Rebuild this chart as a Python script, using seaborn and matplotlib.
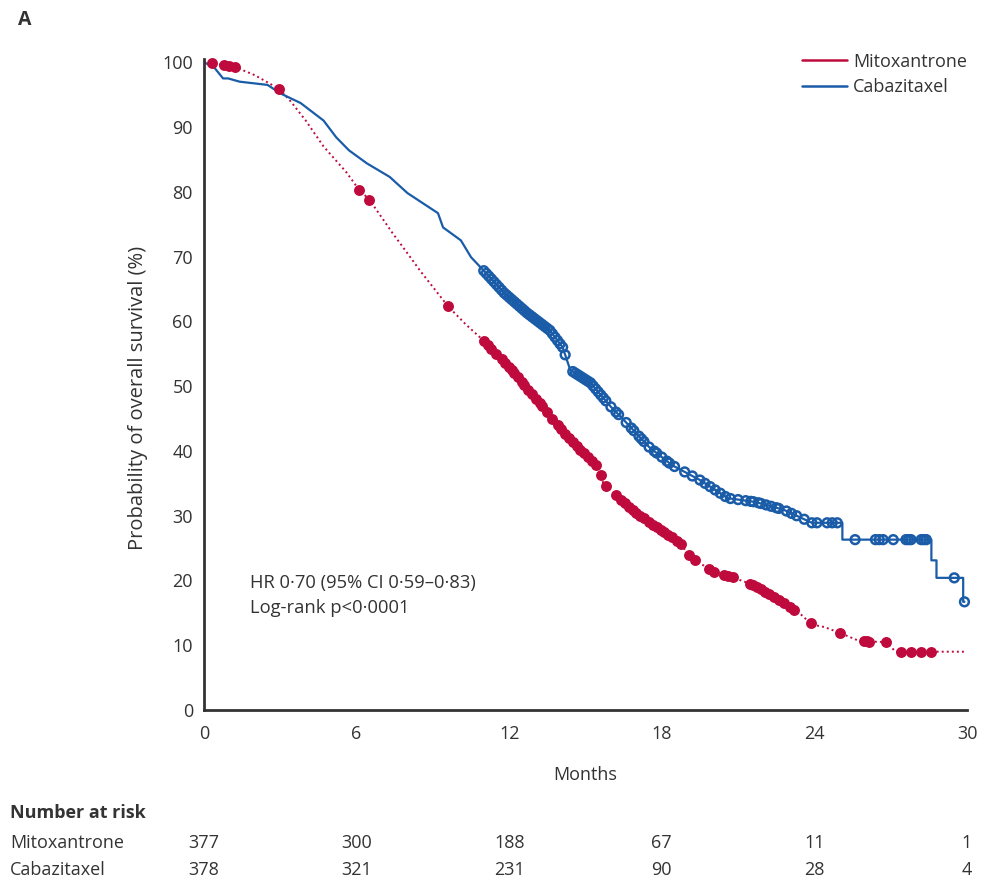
import numpy as np
import pandas as pd
import matplotlib
matplotlib.use("Agg")
import matplotlib.pyplot as plt
from matplotlib.lines import Line2D
import seaborn as sns

# Kaplan-Meier curves (months, % surviving)
mito_t = [0, 1.2, 2.0, 2.95, 3.4, 4.0, 4.7, 5.6, 6.1, 6.5, 7.4, 8.0, 8.5, 9.0, 9.6,
          10.3, 11.0, 12.0, 13.1, 13.7, 14.4, 15.5, 15.7, 16.2, 16.9, 17.8, 18.7,
          19.1, 20.0, 20.7, 21.6, 22.4, 23.0, 23.4, 23.9, 24.4, 25.0, 25.8, 26.8,
          27.2, 30.0]
mito_s = [100, 99.3, 98.0, 95.9, 94.0, 91.0, 87.0, 83.0, 80.3, 78.8, 73.7, 70.5,
          67.8, 65.3, 62.3, 59.5, 57.0, 53.0, 47.8, 45.0, 41.7, 37.5, 35.0, 33.2,
          30.7, 28.2, 25.9, 23.7, 21.4, 20.6, 19.3, 17.5, 16.0, 15.0, 13.2, 12.8,
          11.9, 10.6, 10.5, 9.0, 9.0]

caba_t = [0, 0.4, 0.75, 0.95, 1.4, 2.5, 3.0, 3.8, 4.7, 5.2, 5.7, 6.4, 7.3, 8.0,
          9.2, 9.4, 10.1, 10.5, 11.1, 11.8, 12.7, 13.6, 14.1, 14.4, 15.2, 16.0,
          16.5, 17.5, 18.4, 19.5, 20.6, 21.7, 22.8, 23.9, 25.1, 25.1, 28.6, 28.6,
          28.8, 28.8, 29.85, 29.85, 29.9]
caba_s = [100, 99.2, 97.5, 97.5, 97.0, 96.5, 95.2, 93.7, 91.0, 88.4, 86.4, 84.4,
          82.3, 79.8, 76.7, 74.5, 72.5, 69.9, 67.4, 64.4, 61.3, 58.6, 56.0, 52.5,
          50.5, 46.8, 44.8, 40.6, 37.8, 35.5, 32.7, 32.1, 30.9, 28.9, 28.9, 26.3,
          26.3, 23.1, 23.1, 20.4, 20.4, 16.7, 16.7]

# censoring times (months)
mito_cens = [0.3, 0.8, 1.0, 1.2, 2.95, 6.1, 6.5, 9.6,
             11.0, 11.15, 11.3, 11.5, 11.7, 11.85, 12.0, 12.1, 12.2, 12.35, 12.5,
             12.6, 12.75, 12.9, 13.05, 13.2, 13.3, 13.5, 13.7, 13.9, 14.05, 14.2,
             14.35, 14.5, 14.65, 14.8, 14.95, 15.1, 15.25, 15.4, 15.6, 15.8, 16.2,
             16.4, 16.55, 16.7, 16.85, 17.0, 17.15, 17.3, 17.5, 17.65, 17.8, 17.95,
             18.1, 18.25, 18.4, 18.6, 18.75, 19.05, 19.3, 19.85, 20.05, 20.45,
             20.6, 20.8, 21.45, 21.6, 21.75, 21.9, 22.05, 22.2, 22.4, 22.6, 22.8,
             23.05, 23.2, 23.85, 25.0, 25.95, 26.05, 26.15, 26.8, 27.4, 27.8,
             28.2, 28.6]
caba_cens = [11.0, 11.1, 11.2, 11.3, 11.4, 11.5, 11.6, 11.7, 11.8, 11.9, 12.0,
             12.1, 12.2, 12.3, 12.4, 12.5, 12.6, 12.7, 12.8, 12.9, 13.0, 13.1,
             13.2, 13.3, 13.4, 13.5, 13.6, 13.7, 13.8, 13.9, 14.0, 14.1, 14.2,
             14.5, 14.6, 14.7, 14.8, 14.9, 15.0, 15.1, 15.2, 15.3, 15.4, 15.5,
             15.6, 15.7, 15.8, 16.0, 16.2, 16.3, 16.6, 16.8, 16.9, 17.1, 17.2,
             17.3, 17.5, 17.7, 17.8, 18.0, 18.2, 18.3, 18.5, 18.9, 19.2, 19.5,
             19.7, 19.9, 20.1, 20.3, 20.5, 20.7, 21.0, 21.3, 21.5, 21.6, 21.8,
             21.9, 22.1, 22.3, 22.5, 22.6, 22.9, 23.1, 23.3, 23.6, 23.9, 24.1,
             24.5, 24.7, 24.9, 25.6, 26.4, 26.55, 26.7, 27.1, 27.6, 27.7, 27.8,
             28.2, 28.3, 28.4, 29.5, 29.9]

groups = ["Mitoxantrone", "Cabazitaxel"]
at_risk_months = [0, 6, 12, 18, 24, 30]
at_risk = {"Mitoxantrone": [377, 300, 188, 67, 11, 1],
           "Cabazitaxel": [378, 321, 231, 90, 28, 4]}

RED = "#BE0A3C"
BLUE = "#1A5CA8"
DARK = "#333333"

sns.set_style("white")
plt.rcParams['font.family'] = ['Open Sans', 'DejaVu Sans']

curves = pd.concat([
    pd.DataFrame({"months": mito_t, "surv": mito_s, "group": "Mitoxantrone"}),
    pd.DataFrame({"months": caba_t, "surv": caba_s, "group": "Cabazitaxel"}),
])
cens = pd.concat([
    pd.DataFrame({"months": mito_cens,
                  "surv": np.interp(mito_cens, mito_t, mito_s), "group": "Mitoxantrone"}),
    pd.DataFrame({"months": caba_cens,
                  "surv": np.interp(caba_cens, caba_t, caba_s), "group": "Cabazitaxel"}),
])

fig = plt.figure(figsize=(9.83, 8.82), dpi=100)
ax = fig.add_axes([204 / 983, 1 - 710 / 882, 763 / 983, 651 / 882])

m = curves[curves.group == "Mitoxantrone"]
c = curves[curves.group == "Cabazitaxel"]
sns.lineplot(data=m, x="months", y="surv", sort=False, estimator=None, ax=ax,
             color=RED, lw=1.4, linestyle=(0, (1, 1.6)))
sns.lineplot(data=c, x="months", y="surv", sort=False, estimator=None, ax=ax,
             color=BLUE, lw=1.6)

cm = cens[cens.group == "Mitoxantrone"]
cc = cens[cens.group == "Cabazitaxel"]
sns.scatterplot(data=cm, x="months", y="surv", ax=ax, color=RED, s=62,
                edgecolor=RED, linewidth=0, zorder=4, clip_on=False)
sns.scatterplot(data=cc, x="months", y="surv", ax=ax, facecolor="none", s=40,
                edgecolor=BLUE, linewidth=1.8, zorder=4, clip_on=False)

ax.set_xlim(0, 30)
ax.set_ylim(0, 100.5)
ax.set_xticks(at_risk_months)
ax.set_yticks(range(0, 101, 10))
ax.tick_params(axis="both", direction="out", length=6, width=1.6, color=DARK,
               labelsize=13, labelcolor=DARK, pad=3)
ax.tick_params(axis="y", length=5)
ax.tick_params(axis="x", length=8)
for side in ["top", "right"]:
    ax.spines[side].set_visible(False)
for side in ["left", "bottom"]:
    ax.spines[side].set_color(DARK)
    ax.spines[side].set_linewidth(2)
ax.set_xlabel("Months", fontsize=13, color=DARK, labelpad=16)
ax.set_ylabel("Probability of overall survival (%)", fontsize=14.5, color=DARK)
ax.yaxis.set_label_coords(-0.073, 0.479)

ax.text(1.8, 19.6, "HR 0\u00b770 (95% CI 0\u00b759\u20130\u00b783)", fontsize=13.2,
        color=DARK, va="center")
ax.text(1.8, 15.7, "Log-rank p<0\u00b70001", fontsize=13.2, color=DARK, va="center")

handles = [Line2D([], [], color=RED, lw=1.8), Line2D([], [], color=BLUE, lw=1.8)]
fig.legend(handles, groups, loc="upper left", bbox_to_anchor=(798 / 983, 1 - 49 / 882),
           frameon=False, fontsize=13, handlelength=2.5, handletextpad=0.35,
           labelspacing=0.4, labelcolor=DARK, borderaxespad=0, borderpad=0.2)

fig.text(18 / 983, 1 - 20 / 882, "A", fontsize=14, fontweight="bold", color=DARK,
         va="center")

# number at risk table
trans = ax.get_xaxis_transform()
fig.text(10 / 983, 1 - 813 / 882, "Number at risk", fontsize=13, fontweight="bold",
         color=DARK, va="center")
for row_y, g in zip([843, 870], groups):
    fig.text(10 / 983, 1 - row_y / 882, g, fontsize=13, color=DARK, va="center")
    yy = -(row_y - 710) / 651
    for mo, n in zip(at_risk_months, at_risk[g]):
        ax.text(mo, yy, str(n), transform=trans, ha="center", va="center",
                fontsize=13, color=DARK, clip_on=False)

fig.savefig("out.png", dpi=100)
